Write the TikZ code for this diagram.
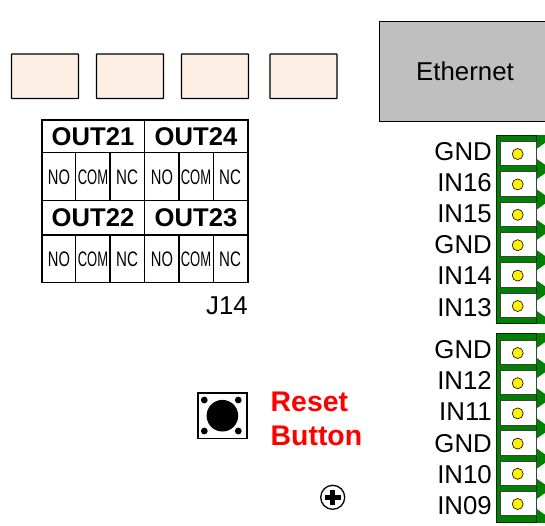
\documentclass[tikz,border=0pt]{standalone}
\usepackage{fontspec}
\setmainfont{Liberation Sans}
\definecolor{peach}{HTML}{FDEFE4}
\definecolor{ethgray}{HTML}{BFBFBF}
\definecolor{termgreen}{HTML}{008000}
\tikzset{
  relay/.style={draw=black,line width=1.3pt,fill=peach,rounded corners=0.5pt},
  grid line/.style={draw=black,line width=1.4pt},
  head/.style={font=\fontsize{25.6}{25.6}\selectfont\bfseries,inner sep=0pt},
  contact/.style={font=\fontsize{21}{21}\selectfont,inner sep=0pt},
  lbl/.style={font=\fontsize{25.8}{25.8}\selectfont,inner sep=0pt,anchor=base east},
  pin/.style={circle,draw=black,line width=0.6pt,fill=yellow,minimum size=11pt,inner sep=0pt},
  redlbl/.style={font=\fontsize{28.4}{28.4}\selectfont\bfseries,text=red,inner sep=0pt,anchor=base west},
}
\newcommand{\NOt}{\scalebox{0.7}[1]{NO}}
\newcommand{\COMt}{\scalebox{0.62}[1]{COM}}
\newcommand{\NCt}{\scalebox{0.72}[1]{NC}}
% arrowhead whose base runs from c+17 to c+39
\newcommand{\termhead}[1]{%
  \fill[termgreen] (535.5,#1+17) -- (551,#1+28) -- (535.5,#1+39) -- cycle;
}
\newcommand{\termcell}[1]{%
  \draw[black!75,line width=0.5pt,fill=white] (500.7,#1) rectangle (536,#1+24.5);
  \node[pin] at (517.7,#1+13) {};
}
\begin{document}
\begin{tikzpicture}[x=1pt,y=-1pt]
\useasboundingbox (0,0) rectangle (545,525);
% relay boxes
\draw[relay] (11.5,54) rectangle (78.5,98.5);
\draw[relay] (96.5,54) rectangle (163.5,98.5);
\draw[relay] (181.5,54) rectangle (248.5,98.5);
\draw[relay] (270,54) rectangle (337,98.5);
% ethernet
\draw[draw=black,line width=1pt,fill=ethgray] (379,21) rectangle (552,121);
\node[font=\fontsize{25.8}{25.8}\selectfont,inner sep=0pt] (eth) at (465,71) {Ethernet};
% table
\draw[grid line] (42,120) rectangle (248,282.7);
\foreach \y in {152.7,200.7,235} \draw[grid line] (42,\y) -- (248,\y);
\draw[grid line] (144.3,120) -- (144.3,282.7);
\foreach \x in {75.7,110,179,213.3} {
  \draw[grid line] (\x,152.7) -- (\x,200.7);
  \draw[grid line] (\x,235) -- (\x,282.7);
}
\node[head] at (93,137) {OUT21};
\node[head] at (196,137) {OUT24};
\node[head] at (93,218) {OUT22};
\node[head] at (196,218) {OUT23};
\foreach \y in {177,259} {
  \node[contact] at (59,\y) {\NOt};
  \node[contact] at (93,\y) {\COMt};
  \node[contact] at (127,\y) {\NCt};
  \node[contact] at (162,\y) {\NOt};
  \node[contact] at (196,\y) {\COMt};
  \node[contact] at (230,\y) {\NCt};
}
\node[font=\fontsize{25.8}{25.8}\selectfont,inner sep=0pt,anchor=base east] (j14) at (248,314) {J14};
% terminal blocks
\begin{scope}
\clip (490,135) rectangle (545,323);
\foreach \y in {110.6,141,171.4,201.8,232.2,262.6,293} {\termhead{\y}}
\end{scope}
\begin{scope}
\clip (490,333) rectangle (545,522);
\foreach \y in {309.8,340,370.2,400.4,430.6,460.8,491} {\termhead{\y}}
\end{scope}
\draw[black!70!termgreen,line width=0.5pt,fill=termgreen] (496.7,135) rectangle (536,323);
\draw[black!70!termgreen,line width=0.5pt,fill=termgreen] (496.7,333) rectangle (536,522);
\foreach \y in {141,171.4,201.8,232.2,262.6,293} {\termcell{\y}}
\foreach \y in {340,370.2,400.4,430.6,460.8,491} {\termcell{\y}}
% terminal labels
\foreach \t/\y in {GND/160,IN16/191,IN15/222,GND/253,IN14/284,IN13/316,GND/358,IN12/389,IN11/420,GND/452,IN10/483,IN09/514}
  \node[lbl] at (492,\y) {\t};
% reset button
\draw[black,line width=1.5pt,fill=white] (198,393) rectangle (246.8,438.5);
\fill[black] (222.4,415.7) circle (15.8pt);
\foreach \x/\y in {204.3/400,238.3/400,204.3/431,238.3/431} \fill[black] (\x,\y) circle (3.4pt);
\node[redlbl] (r1) at (270.5,411) {Reset};
\node[redlbl] (r2) at (270.5,445) {Button};
% screw
\draw[black,line width=1.3pt,fill=white] (332.7,497.3) circle (12pt);
\fill[black] (324.9,494.6) rectangle (340.5,500);
\fill[black] (330,489.5) rectangle (335.4,505.1);
\end{tikzpicture}
\end{document}
